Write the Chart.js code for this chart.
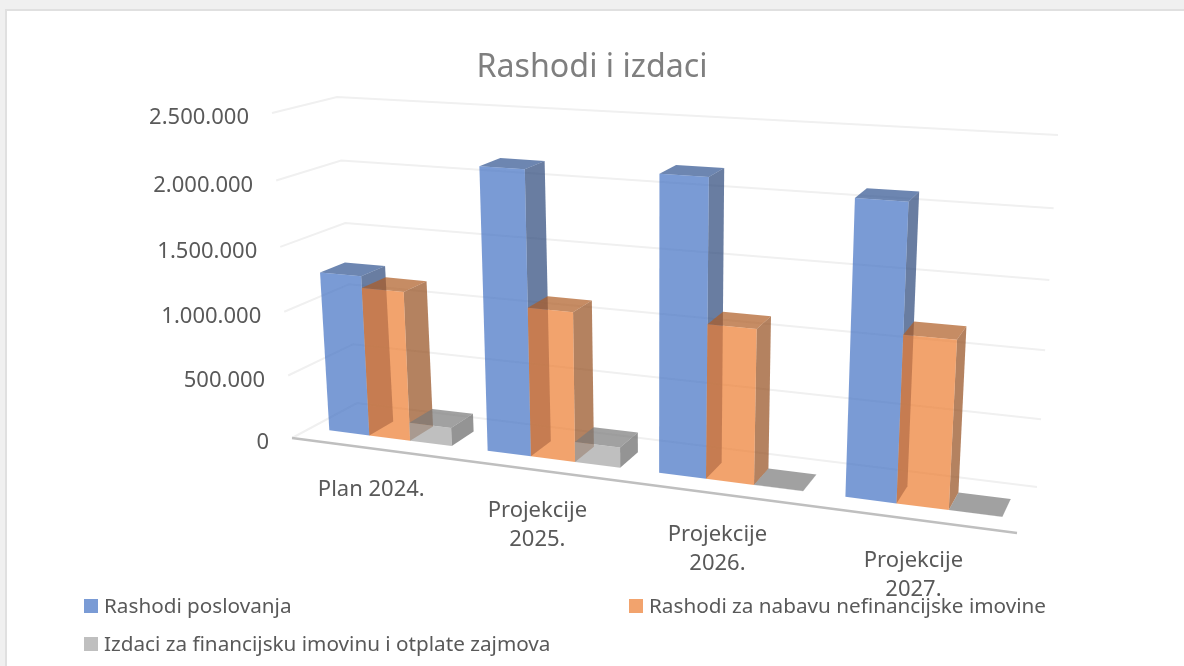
<!DOCTYPE html>
<html>
<head>
<meta charset="utf-8">
<title>Rashodi i izdaci</title>
<script src="https://cdn.jsdelivr.net/npm/chart.js@4"></script>
<style>
    html, body { margin: 0; padding: 0; background: #f0f0f0; overflow: hidden; }
    #sheet { position: absolute; left: 5px; top: 9px; right: 0; bottom: 0; background: #fff; border-left: 2px solid #e0e0e0; border-top: 2px solid #e0e0e0; }
    #chart { position: absolute; left: 0; top: 0; }
</style>
</head>
<body>
<div id="sheet"></div>
<canvas id="chart" width="1184" height="666"></canvas>
<script>
const categories = [['Plan 2024.'], ['Projekcije', '2025.'], ['Projekcije', '2026.'], ['Projekcije', '2027.']];
const yTickStep = 500000;
const yMax = 2500000;

const seriesNames = ['Rashodi poslovanja', 'Rashodi za nabavu nefinancijske imovine', 'Izdaci za financijsku imovinu i otplate zajmova'];
const rashodiPoslovanja = [1260000, 2160000, 2193000, 2116000];
const rashodiNabava = [1170000, 1140000, 1146000, 1205000];
const izdaciFinancijska = [144000, 155000, 1500, 1500];

const seriesRgb = [[68, 114, 196], [237, 125, 49], [165, 165, 165]];
const barAlpha = 0.71;
const textColor = '#595959';
const fontFamily = '"Noto Sans", sans-serif';

// View of the 3D box: screen position of its corners, left/right, bottom/top, front/back
const view = {
    left: { bottomFront: [292, 438], topFront: [272, 113], bottomBack: [357, 403], topBack: [337, 97] },
    right: { bottomFront: [1017, 533], topFront: [1039, 159], bottomBack: [1037, 487], topBack: [1058, 135] },
    stretchX: 1.18,   // things get wider to the right
    stretchY: 1.05,   // and taller to the top
    barNear: 0.29,
    barFar: 0.68,
    barShift: 0.003
};

function lerp(a, b, f) {
    return [a[0] + (b[0] - a[0]) * f, a[1] + (b[1] - a[1]) * f];
}

function sidePoint(c, t, z) {
    return lerp(lerp(c.bottomFront, c.topFront, t), lerp(c.bottomBack, c.topBack, t), z);
}

// s, t, z are 0..1 along the x scale, y scale and depth
function project(s, t, z) {
    const fx = s / (view.stretchX + (1 - view.stretchX) * s);
    const fy = t / (view.stretchY + (1 - view.stretchY) * t);
    return lerp(sidePoint(view.left, fy, z), sidePoint(view.right, fy, z), fx);
}

function shade(rgb, factor) {
    return `rgba(${rgb.map(c => Math.round(c * factor)).join(',')},${barAlpha})`;
}

function fillFace(ctx, points, color) {
    ctx.beginPath();
    points.forEach((p, i) => i ? ctx.lineTo(p[0], p[1]) : ctx.moveTo(p[0], p[1]));
    ctx.closePath();
    ctx.fillStyle = color;
    ctx.fill();
}

function drawWalls(ctx, chart) {
    const area = chart.chartArea;
    const yScale = chart.scales.y;
    ctx.strokeStyle = '#f0f0f0';
    ctx.lineWidth = 2;
    yScale.ticks.forEach(tick => {
        const t = (area.bottom - yScale.getPixelForValue(tick.value)) / area.height;
        const a = project(0, t, 0), b = project(0, t, 1), c = project(1, t, 1);
        ctx.beginPath();
        ctx.moveTo(a[0], a[1]);
        ctx.lineTo(b[0], b[1]);
        ctx.lineTo(c[0], c[1]);
        ctx.stroke();
    });

    // front edge of the floor
    const start = project(0, 0, 0), end = project(1, 0, 0);
    ctx.strokeStyle = '#bfbfbf';
    ctx.lineWidth = 2.5;
    ctx.beginPath();
    ctx.moveTo(start[0], start[1]);
    ctx.lineTo(end[0], end[1]);
    ctx.stroke();
}

function drawBars(ctx, chart) {
    const area = chart.chartArea;
    const near = view.barNear, far = view.barFar;
    const columns = categories.length;
    for (let col = 0; col < columns; col++) {
        chart.data.datasets.forEach((dataset, d) => {
            const bar = chart.getDatasetMeta(d).data[col];
            const s0 = (bar.x - bar.width / 2 - area.left) / area.width + view.barShift;
            const s1 = (bar.x + bar.width / 2 - area.left) / area.width + view.barShift;
            const t0 = (area.bottom - bar.base) / area.height;
            const t1 = (area.bottom - bar.y) / area.height;
            const rgb = seriesRgb[d];
            fillFace(ctx, [project(s1, t0, near), project(s1, t0, far), project(s1, t1, far), project(s1, t1, near)], shade(rgb, 0.63));
            fillFace(ctx, [project(s0, t1, near), project(s1, t1, near), project(s1, t1, far), project(s0, t1, far)], shade(rgb, 0.74));
            fillFace(ctx, [project(s0, t0, near), project(s1, t0, near), project(s1, t1, near), project(s0, t1, near)], shade(rgb, 1));
        });
    }
}

function drawAxisLabels(ctx, chart) {
    const area = chart.chartArea;
    const yScale = chart.scales.y, xScale = chart.scales.x;
    ctx.fillStyle = textColor;
    ctx.font = `22px ${fontFamily}`;
    ctx.textBaseline = 'middle';

    ctx.textAlign = 'right';
    yScale.ticks.forEach(tick => {
        const t = (area.bottom - yScale.getPixelForValue(tick.value)) / area.height;
        const p = project(0, t, 0);
        ctx.fillText(tick.label, p[0] - 23, p[1] + 5);
    });

    ctx.textAlign = 'center';
    xScale.ticks.forEach((tick, i) => {
        const s = (xScale.getPixelForTick(i) - area.left) / area.width;
        const p = project(s, 0, 0);
        [].concat(tick.label).forEach((line, n) => {
            ctx.fillText(line, p[0] + 1, p[1] + 41 + n * 29);
        });
    });
}

function drawLegend(ctx, chart) {
    const spots = [[84, 606], [629, 606], [84, 644]];
    ctx.font = `20.7px ${fontFamily}`;
    ctx.textAlign = 'left';
    ctx.textBaseline = 'middle';
    chart.data.datasets.forEach((dataset, d) => {
        const [x, y] = spots[d];
        ctx.fillStyle = shade(seriesRgb[d], 1);
        ctx.fillRect(x, y - 7, 14, 14);
        ctx.fillStyle = textColor;
        ctx.fillText(dataset.label, x + 20, y + 1);
    });
}

// Draws the walls, boxes and texts in place of the flat bars
const perspectivePlugin = {
    id: 'perspective',
    beforeDatasetsDraw(chart) {
        const ctx = chart.ctx;
        ctx.save();
        drawWalls(ctx, chart);
        drawBars(ctx, chart);
        drawAxisLabels(ctx, chart);
        drawLegend(ctx, chart);
        ctx.restore();
        return false;
    }
};

new Chart(document.getElementById('chart').getContext('2d'), {
    type: 'bar',
    data: {
        labels: categories,
        datasets: [
            { label: seriesNames[0], data: rashodiPoslovanja, backgroundColor: shade(seriesRgb[0], 1) },
            { label: seriesNames[1], data: rashodiNabava, backgroundColor: shade(seriesRgb[1], 1) },
            { label: seriesNames[2], data: izdaciFinancijska, backgroundColor: shade(seriesRgb[2], 1) }
        ]
    },
    options: {
        responsive: false,
        animation: false,
        datasets: { bar: { categoryPercentage: 0.78, barPercentage: 1 } },
        plugins: {
            legend: { display: false },
            tooltip: { enabled: false },
            title: {
                display: true,
                text: 'Rashodi i izdaci',
                color: '#7f7f7f',
                font: { family: fontFamily, size: 32.2, weight: 'normal' },
                padding: { top: 49, bottom: 10 }
            }
        },
        scales: {
            x: { display: false },
            y: {
                display: false,
                min: 0,
                max: yMax,
                ticks: {
                    stepSize: yTickStep,
                    callback: value => value.toLocaleString('de-DE')
                }
            }
        }
    },
    plugins: [perspectivePlugin]
});
</script>
</body>
</html>
